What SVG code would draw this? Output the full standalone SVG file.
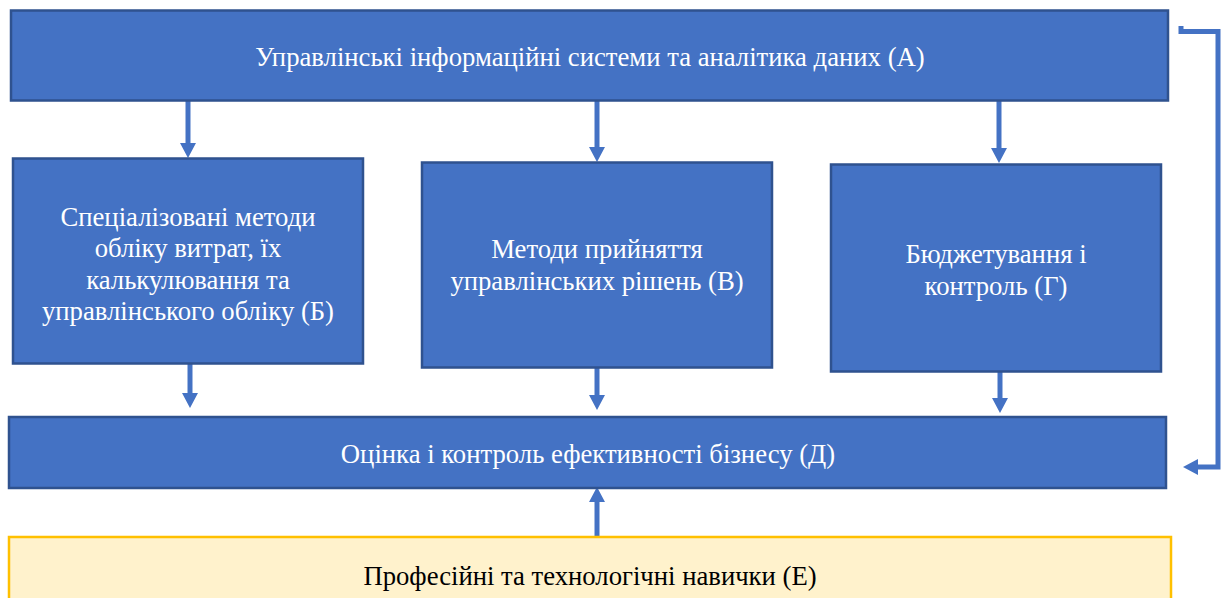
<svg xmlns="http://www.w3.org/2000/svg" width="1221" height="598" viewBox="0 0 1221 598">
<defs>
<style>
.box{fill:#4472C4;stroke:#2F528F;stroke-width:2.5}
.ybox{fill:#FFF2CC;stroke:#FFC000;stroke-width:2.5}
.t{font-family:"Liberation Serif","Times New Roman",serif;font-size:26.7px;fill:#FFFFFF;text-anchor:middle}
.tk{font-family:"Liberation Serif","Times New Roman",serif;font-size:26.7px;fill:#000000;text-anchor:middle}
.c{fill:none;stroke:#4472C4;stroke-width:5}
.h{fill:#4472C4}
</style>
</defs>
<g id="connectors">
<path class="c" d="M188,101 V144"/>
<polygon class="h" points="180,143 196,143 188,158"/>
<path class="c" d="M597,101 V148"/>
<polygon class="h" points="589,147 605,147 597,162"/>
<path class="c" d="M999,101 V149"/>
<polygon class="h" points="991,148 1007,148 999,163"/>
<path class="c" d="M190,364 V394"/>
<polygon class="h" points="182,393 198,393 190,408"/>
<path class="c" d="M597,368 V396"/>
<polygon class="h" points="589,395 605,395 597,410"/>
<path class="c" d="M1000,372 V399"/>
<polygon class="h" points="992,398 1008,398 1000,413"/>
<path class="c" d="M597,537 V501"/>
<polygon class="h" points="589,502 605,502 597,487"/>
<path class="c" d="M1181,26 V31.5 H1218 V467 H1197"/>
<polygon class="h" points="1198,459 1198,475 1183,467"/>
</g>
<g id="nodeA">
<rect class="box" x="11" y="10.5" width="1157" height="90"/>
<text class="t" x="590" y="66">Управлінські інформаційні системи та аналітика даних (А)</text>
</g>
<g id="nodeB">
<rect class="box" x="13" y="158.5" width="350" height="205"/>
<text class="t" x="188" y="226">Спеціалізовані методи</text>
<text class="t" x="188" y="257">обліку витрат, їх</text>
<text class="t" x="188" y="289">калькулювання та</text>
<text class="t" x="188" y="320">управлінського обліку (Б)</text>
</g>
<g id="nodeC">
<rect class="box" x="422" y="162.5" width="350" height="205"/>
<text class="t" x="597" y="258">Методи прийняття</text>
<text class="t" x="597" y="290">управлінських рішень (В)</text>
</g>
<g id="nodeG">
<rect class="box" x="831" y="164.5" width="330" height="207"/>
<text class="t" x="996" y="263">Бюджетування і</text>
<text class="t" x="996" y="295">контроль (Г)</text>
</g>
<g id="nodeD">
<rect class="box" x="9" y="417" width="1157" height="71"/>
<text class="t" x="588" y="463">Оцінка і контроль ефективності бізнесу (Д)</text>
</g>
<g id="nodeE">
<rect class="ybox" x="9" y="537" width="1162" height="70"/>
<text class="tk" x="590" y="585">Професійні та технологічні навички (Е)</text>
</g>
</svg>
